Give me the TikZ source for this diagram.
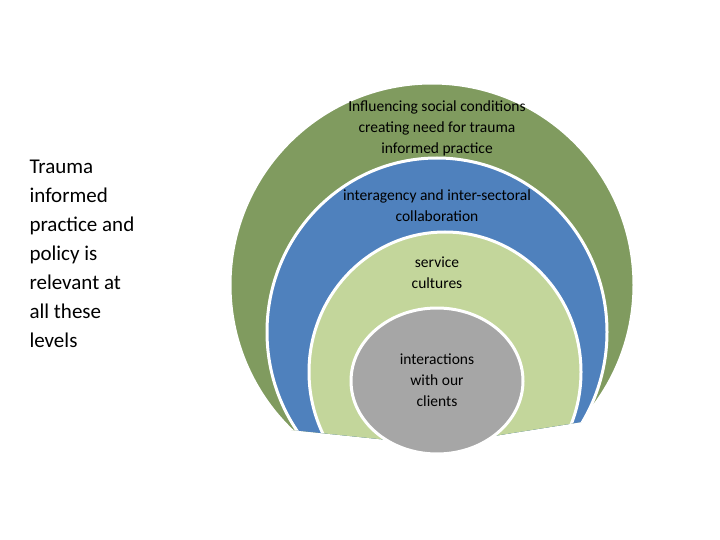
\documentclass[tikz,border=0pt]{standalone}
\usepackage{fontspec}
\setmainfont{Carlito}
\begin{document}
\begin{tikzpicture}[x=1pt,y=-1pt,
  ring/.style={draw=white,line width=3pt},
  lbl/.style={align=center,font=\fontsize{15.5}{21}\selectfont}]
\useasboundingbox (0,0) rectangle (720,540);
\begin{scope}
\clip (0,0) -- (720,0) -- (720,400) -- (437,445) -- (0,400) -- cycle;
\fill[ring,fill={rgb,255:red,128;green,155;blue,95}] (432,285) ellipse [x radius=202,y radius=202];
\fill[ring,fill={rgb,255:red,79;green,129;blue,189}] (437,332) ellipse [x radius=170,y radius=174];
\fill[ring,fill={rgb,255:red,195;green,214;blue,155}] (445,372) ellipse [x radius=136,y radius=140];
\end{scope}
\fill[ring,fill={rgb,255:red,166;green,166;blue,166}] (437,381) ellipse [x radius=86,y radius=73];
\node[lbl] (t1) at (437,128) {Influencing social conditions\\creating need for trauma\\informed practice};
\node[lbl] (t2) at (437,206) {interagency and inter-sectoral\\collaboration};
\node[lbl] (t3) at (437,273) {service\\cultures};
\node[lbl] (t4) at (437,380) {interactions\\with our\\clients};
\node[align=left,anchor=north west,font=\fontsize{21}{29}\selectfont] (side) at (26,156)
 {Trauma\\informed\\practice and\\policy is\\relevant at\\all these\\levels};
\end{tikzpicture}
\end{document}
